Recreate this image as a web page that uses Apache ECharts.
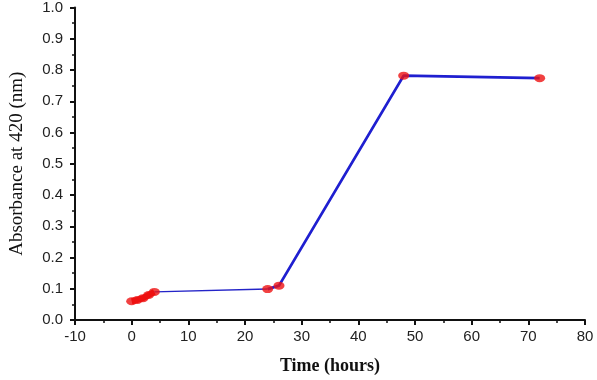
<!DOCTYPE html>
<html>
<head>
<meta charset="utf-8">
<script src="https://cdn.jsdelivr.net/npm/echarts@6/dist/echarts.min.js"></script>
<style>
  html, body { margin: 0; padding: 0; background: #fff; }
  #chart { width: 597px; height: 380px; }
</style>
</head>
<body>
<div id="chart"></div>
<script>
// values
const timeHours = [0, 1, 2, 3, 4, 24, 26, 48, 72];
const absorbance = [0.060, 0.064, 0.070, 0.080, 0.090, 0.099, 0.110, 0.782, 0.774];

const xTicks = { min: -10, max: 80, interval: 10 };
const yTicks = { min: 0, max: 1.0, interval: 0.1 };

const points = timeHours.map((t, i) => [t, absorbance[i]]);

// the flat stretch is drawn thinner than the rise
const thinPart = points.slice(4, 6);
const thickPart = points.slice(5);
const earlyPart = points.slice(0, 5);

const chart = echarts.init(document.getElementById("chart"), null, { renderer: "canvas" });

const axisCommon = {
  axisLine: { show: true, onZero: false, lineStyle: { color: "#111", width: 2 } },
  axisTick: { show: true, inside: false, length: 5, lineStyle: { color: "#111", width: 2 } },
  minorTick: { show: true, splitNumber: 2, length: 3, lineStyle: { color: "#111", width: 1.5 } },
  splitLine: { show: false },
  axisLabel: { color: "#222", fontFamily: "Liberation Sans, Arial", fontSize: 15 }
};

chart.setOption({
  backgroundColor: "#fff",
  animation: false,
  grid: { left: 74, right: 12, top: 7, bottom: 58 },
  xAxis: {
    type: "value",
    min: xTicks.min,
    max: xTicks.max,
    interval: xTicks.interval,
    ...axisCommon,
    axisLabel: { ...axisCommon.axisLabel, margin: 9 },
    name: "Time (hours)",
    nameLocation: "middle",
    nameGap: 37,
    nameTextStyle: { color: "#111", fontFamily: "Liberation Serif, Times New Roman", fontSize: 18, fontWeight: "bold" }
  },
  yAxis: {
    type: "value",
    min: yTicks.min,
    max: yTicks.max,
    interval: yTicks.interval,
    ...axisCommon,
    axisLabel: {
      ...axisCommon.axisLabel,
      margin: 12,
      formatter: (v) => v.toFixed(1)
    },
    name: "Absorbance at 420 (nm)",
    nameLocation: "middle",
    nameGap: 48,
    nameTextStyle: { color: "#111", fontFamily: "Liberation Serif, Times New Roman", fontSize: 19 }
  },
  series: [
    {
      type: "line",
      data: earlyPart,
      symbol: "none",
      lineStyle: { color: "#ee1111", width: 6 },
      z: 3
    },
    {
      type: "line",
      data: thinPart,
      symbol: "none",
      lineStyle: { color: "#2424c8", width: 1.5 },
      z: 2
    },
    {
      type: "line",
      data: thickPart,
      symbol: "none",
      lineStyle: { color: "#1f1fd0", width: 2.8 },
      z: 2
    },
    {
      type: "scatter",
      data: points,
      symbol: "circle",
      symbolSize: [11, 8],
      itemStyle: { color: "#ee1111" },
      z: 4
    }
  ]
});
</script>
</body>
</html>
